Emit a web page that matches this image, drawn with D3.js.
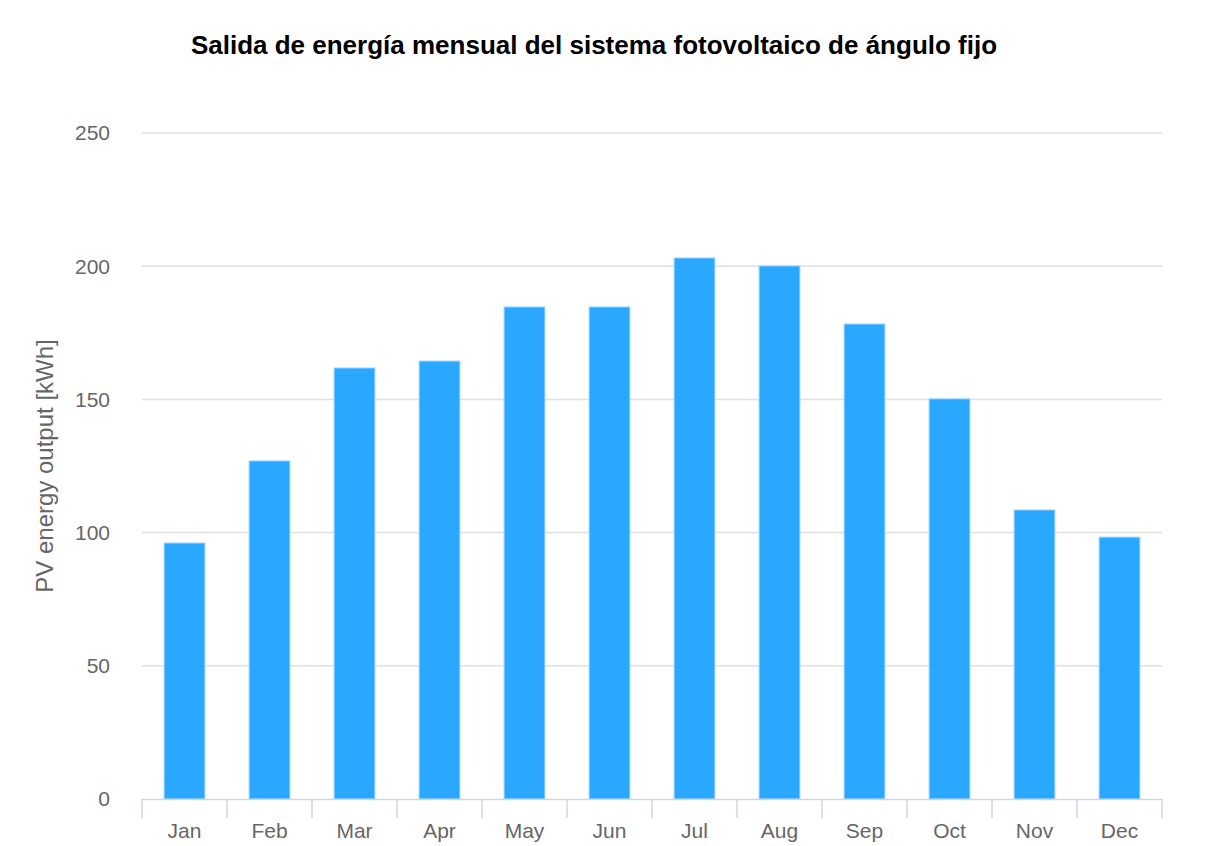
<!DOCTYPE html>
<html>
<head>
<meta charset="utf-8">
<script src="https://cdn.jsdelivr.net/npm/d3@7"></script>
<style>
  body { margin: 0; background: #fff; }
  svg { font-family: "Liberation Sans", Arial, Helvetica, sans-serif; }
</style>
</head>
<body>
<svg width="1232" height="846"></svg>
<script>
const months = ["Jan", "Feb", "Mar", "Apr", "May", "Jun", "Jul", "Aug", "Sep", "Oct", "Nov", "Dec"];
const output = [96.1, 126.9, 161.8, 164.4, 184.7, 184.7, 203.1, 200.1, 178.3, 150.2, 108.5, 98.3];
const yTicks = [0, 50, 100, 150, 200, 250];

const svg = d3.select("svg"),
      margin = {top: 133, right: 70, bottom: 47, left: 142},
      width = +svg.attr("width") - margin.left - margin.right,
      height = +svg.attr("height") - margin.top - margin.bottom;

const g = svg.append("g").attr("transform", `translate(${margin.left},${margin.top})`);

const data = months.map((m, i) => ({month: m, value: output[i]}));

const x = d3.scaleBand()
  .domain(months)
  .range([0, width])
  .paddingInner(0.52)
  .paddingOuter(0.26);

const y = d3.scaleLinear()
  .domain([0, 250])
  .range([height, 0]);

// Title
svg.append("text")
  .attr("x", 594)
  .attr("y", 54)
  .attr("text-anchor", "middle")
  .style("font-size", "26px")
  .style("font-weight", "bold")
  .style("fill", "#000")
  .text("Salida de energía mensual del sistema fotovoltaico de ángulo fijo");

// Gridlines
g.append("g")
  .selectAll("line")
  .data(yTicks.filter(d => d > 0))
  .join("line")
  .attr("x1", 0)
  .attr("x2", width)
  .attr("y1", d => y(d))
  .attr("y2", d => y(d))
  .attr("stroke", "#e0e0e0")
  .attr("stroke-width", 1.5);

// Y axis labels
g.append("g")
  .selectAll("text")
  .data(yTicks)
  .join("text")
  .attr("x", -32)
  .attr("y", d => y(d))
  .attr("dy", "0.35em")
  .attr("text-anchor", "end")
  .style("font-size", "21px")
  .style("fill", "#666")
  .text(d => d);

// Y axis title
svg.append("text")
  .attr("transform", `translate(53,${margin.top + height / 2}) rotate(-90)`)
  .attr("text-anchor", "middle")
  .style("font-size", "24px")
  .style("fill", "#666")
  .text("PV energy output [kWh]");

// Bars
g.selectAll("rect.bar")
  .data(data)
  .join("rect")
  .attr("class", "bar")
  .attr("x", d => x(d.month))
  .attr("y", d => y(d.value))
  .attr("width", x.bandwidth())
  .attr("height", d => height - y(d.value))
  .attr("fill", "#2aa8ff")
  .attr("stroke", "#9fd6ff")
  .attr("stroke-width", 1);

// X axis
const step = x.step();
const xAxis = g.append("g").attr("transform", `translate(0,${height})`);
xAxis.append("line")
  .attr("x1", 0).attr("x2", width)
  .attr("y1", 0.5).attr("y2", 0.5)
  .attr("stroke", "#ccd6eb")
  .attr("stroke-width", 1.5);
xAxis.selectAll("line.tick")
  .data(d3.range(months.length + 1))
  .join("line")
  .attr("class", "tick")
  .attr("x1", i => i * step)
  .attr("x2", i => i * step)
  .attr("y1", 0)
  .attr("y2", 19)
  .attr("stroke", "#ccd6eb")
  .attr("stroke-width", 1.5);
xAxis.selectAll("text")
  .data(months)
  .join("text")
  .attr("x", d => x(d) + x.bandwidth() / 2)
  .attr("y", 39)
  .attr("text-anchor", "middle")
  .style("font-size", "21px")
  .style("fill", "#666")
  .text(d => d);
</script>
</body>
</html>
